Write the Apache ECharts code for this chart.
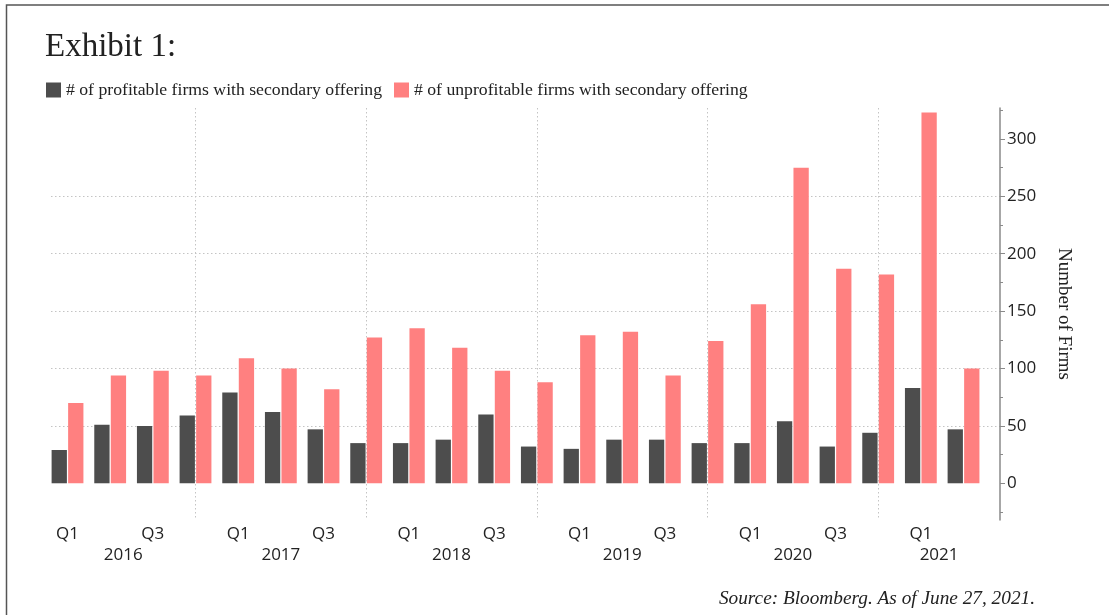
<!DOCTYPE html>
<html>
<head>
<meta charset="utf-8">
<script src="https://cdn.jsdelivr.net/npm/echarts@6/dist/echarts.min.js"></script>
<style>
  html, body { margin: 0; padding: 0; background: #fff; }
  #chart { width: 1109px; height: 615px; }
</style>
</head>
<body>
<div id="chart"></div>
<script>
// Quarterly periods shown on the x axis
const periods = [
  '2016 Q1', '2016 Q2', '2016 Q3', '2016 Q4',
  '2017 Q1', '2017 Q2', '2017 Q3', '2017 Q4',
  '2018 Q1', '2018 Q2', '2018 Q3', '2018 Q4',
  '2019 Q1', '2019 Q2', '2019 Q3', '2019 Q4',
  '2020 Q1', '2020 Q2', '2020 Q3', '2020 Q4',
  '2021 Q1', '2021 Q2'
];

// Number of firms with a secondary offering, per quarter
const profitable = [29, 51, 50, 59, 79, 62, 47, 35, 35, 38, 60, 32, 30, 38, 38, 35, 35, 54, 32, 44, 83, 47];
const unprofitable = [70, 94, 98, 94, 109, 100, 82, 127, 135, 118, 98, 88, 129, 132, 94, 124, 156, 275, 187, 182, 323, 100];

// Right-hand axis ticks
const yTicks = [0, 50, 100, 150, 200, 250, 300];

const seriesNames = [
  '# of profitable firms with secondary offering',
  '# of unprofitable firms with secondary offering'
];
const titleText = 'Exhibit 1:';
const sourceText = 'Source: Bloomberg. As of June 27, 2021.';
const yAxisName = 'Number of Firms';

// ---- derived helpers ----
const quarterOf = p => p.split(' ')[1];
const yearOf = p => p.split(' ')[0];

const X_MIN = -0.387, X_MAX = 21.855;

// Q1 and Q3 labels only
const quarterLabelIdx = periods.map((p, i) => i).filter(i => ['Q1', 'Q3'].includes(quarterOf(periods[i])));
// Year dividers sit on the Q4 bars
const dividerIdx = periods.map((p, i) => i).filter(i => quarterOf(periods[i]) === 'Q4');

// Year label positions: centre of each year's span between dividers
const yearNames = [...new Set(periods.map(yearOf))];
const bounds = [X_MIN, ...dividerIdx, X_MAX];
const yearPos = yearNames.map((y, k) => (bounds[k] + bounds[k + 1]) / 2);
const yearByPos = {};
yearPos.forEach((v, k) => { yearByPos[v.toFixed(3)] = yearNames[k]; });

// Minor ticks halfway between the major ones
const step = yTicks[1] - yTicks[0];
const yMinor = [...yTicks.map(t => t - step / 2), yTicks[yTicks.length - 1] + step / 2];

const SANS = '"Open Sans", "Noto Sans", sans-serif';
const SERIF = '"Liberation Serif", "DejaVu Serif", serif';
const DARK = '#4d4d4d';
const PINK = '#ff8080';
const AXIS_GREY = '#8a8a8a';
const GRID_LINE = { color: '#c4c4c4', type: [1.5, 2.5], width: 1 };

const chart = echarts.init(document.getElementById('chart'), null, { renderer: 'canvas' });

chart.setOption({
  backgroundColor: '#ffffff',
  animation: false,
  title: [
    {
      text: titleText,
      left: 40,
      top: 26,
      textStyle: { fontFamily: SERIF, fontSize: 33, fontWeight: 'normal', color: '#222' }
    },
    {
      text: sourceText,
      right: 69,
      top: 584,
      textStyle: { fontFamily: SERIF, fontSize: 19.3, fontStyle: 'italic', fontWeight: 'normal', color: '#222' }
    }
  ],
  legend: {
    left: 41,
    top: 76,
    icon: 'rect',
    itemWidth: 15,
    itemHeight: 15,
    itemGap: 12,
    textStyle: { fontFamily: SERIF, fontSize: 17.7, color: '#222' },
    data: seriesNames
  },
  grid: {
    left: 51,
    right: 109,
    top: 108,
    bottom: 95,
    containLabel: false,
    outerBoundsMode: 'none'
  },
  xAxis: [
    {
      type: 'value',
      min: X_MIN,
      max: X_MAX,
      axisLine: { show: false, onZero: false },
      axisTick: { show: false, customValues: quarterLabelIdx },
      splitLine: { show: false },
      axisLabel: {
        customValues: quarterLabelIdx,
        formatter: v => quarterOf(periods[Math.round(v)]),
        margin: 6,
        fontFamily: SANS,
        fontSize: 17,
        color: '#222'
      }
    },
    {
      type: 'value',
      position: 'bottom',
      offset: 21,
      min: X_MIN,
      max: X_MAX,
      axisLine: { show: false, onZero: false },
      axisTick: { show: false, customValues: dividerIdx },
      splitLine: { show: true, lineStyle: GRID_LINE },
      axisLabel: {
        customValues: yearPos,
        formatter: v => yearByPos[v.toFixed(3)] || '',
        margin: 6,
        fontFamily: SANS,
        fontSize: 17,
        color: '#222'
      }
    }
  ],
  yAxis: [
    {
      type: 'value',
      position: 'right',
      min: -32,
      max: 327,
      minInterval: 50,
      maxInterval: 50,
      axisLine: { show: true, onZero: false, lineStyle: { color: AXIS_GREY, width: 1.5 } },
      axisTick: { show: true, customValues: yTicks, length: 5, lineStyle: { color: AXIS_GREY, width: 1 } },
      axisLabel: {
        customValues: yTicks,
        margin: 7,
        fontFamily: SANS,
        fontSize: 17,
        color: '#222'
      },
      splitLine: { show: true, showMinLine: false, showMaxLine: false, lineStyle: GRID_LINE },
      name: yAxisName,
      nameLocation: 'middle',
      nameRotate: -90,
      nameGap: 54,
      nameTextStyle: { fontFamily: SERIF, fontSize: 19, color: '#222' }
    },
    {
      type: 'value',
      position: 'right',
      min: -32,
      max: 327,
      axisLine: { show: false, onZero: false },
      axisTick: { show: true, customValues: yMinor, length: 3, lineStyle: { color: AXIS_GREY, width: 1 } },
      axisLabel: { show: false },
      splitLine: { show: false }
    }
  ],
  series: [
    {
      name: seriesNames[0],
      type: 'bar',
      xAxisIndex: 0,
      yAxisIndex: 0,
      barWidth: 15.3,
      barGap: '8%',
      itemStyle: { color: DARK },
      data: profitable.map((v, i) => [i, v])
    },
    {
      name: seriesNames[1],
      type: 'bar',
      xAxisIndex: 0,
      yAxisIndex: 0,
      barWidth: 15.3,
      barGap: '8%',
      itemStyle: { color: PINK },
      data: unprofitable.map((v, i) => [i, v])
    }
  ],
  graphic: [
    {
      type: 'rect',
      silent: true,
      shape: { x: 6.5, y: 5, width: 1200, height: 700 },
      style: { fill: null, stroke: '#555', lineWidth: 1.5 }
    }
  ]
});
</script>
</body>
</html>
